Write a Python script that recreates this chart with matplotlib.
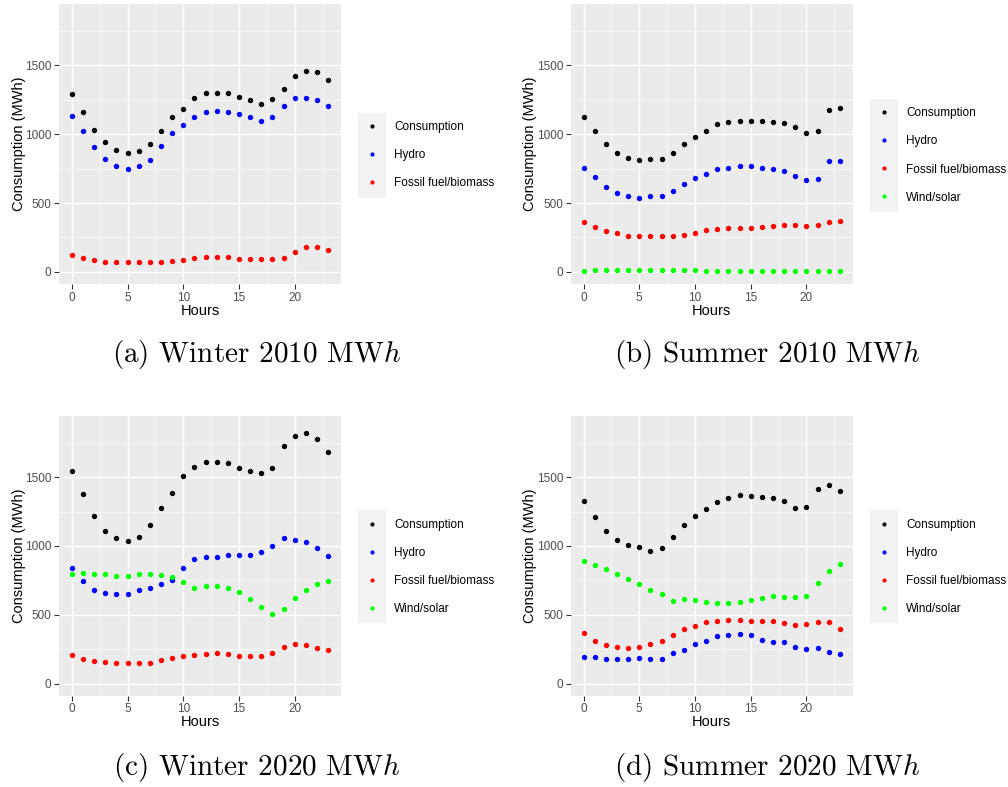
import matplotlib
matplotlib.use("Agg")
import matplotlib.pyplot as plt
from matplotlib.lines import Line2D
from matplotlib.patches import Rectangle
from matplotlib.ticker import MultipleLocator

plt.rcParams['font.family'] = ['Liberation Sans', 'DejaVu Sans']
plt.rcParams['mathtext.fontset'] = 'cm'

#--------------------------------------
# data (MWh per hour of day)
hours = list(range(24))

w10_consumption = [1289, 1161, 1030, 940, 882, 865, 880, 928, 1023, 1122, 1185, 1265,
                   1299, 1301, 1301, 1270, 1246, 1221, 1253, 1326, 1420, 1461, 1454, 1393]
w10_hydro = [1134, 1025, 904, 821, 771, 751, 766, 814, 911, 1006, 1066, 1127,
             1161, 1166, 1161, 1144, 1122, 1098, 1127, 1204, 1260, 1265, 1250, 1204]
w10_fossil = [121, 99, 85, 75, 75, 75, 75, 75, 75, 78, 85, 102,
              111, 111, 107, 95, 92, 92, 97, 99, 141, 179, 179, 162]

s10_consumption = [1127, 1027, 931, 865, 824, 812, 821, 821, 863, 928, 981, 1025,
                   1071, 1088, 1098, 1098, 1093, 1090, 1081, 1049, 1008, 1025, 1175, 1187]
s10_hydro = [754, 688, 618, 574, 548, 538, 548, 548, 584, 642, 683, 712,
             746, 756, 766, 768, 758, 749, 732, 698, 664, 676, 802, 805]
s10_fossil = [363, 327, 298, 279, 264, 259, 262, 262, 264, 271, 286, 305,
              313, 322, 322, 320, 325, 334, 337, 339, 334, 337, 361, 373]
s10_wind = [10, 12, 12, 12, 12, 15, 15, 15, 15, 12, 12, 10,
            10, 7, 7, 7, 7, 7, 7, 10, 10, 7, 10, 10]

w20_consumption = [1546, 1374, 1214, 1109, 1056, 1039, 1066, 1155, 1274, 1388, 1507, 1573,
                   1607, 1607, 1602, 1568, 1541, 1531, 1568, 1726, 1801, 1818, 1774, 1680]
w20_hydro = [840, 748, 677, 660, 648, 653, 677, 692, 726, 755, 840, 903,
             920, 920, 932, 932, 932, 954, 998, 1061, 1044, 1027, 983, 930]
w20_fossil = [211, 180, 163, 160, 153, 150, 150, 153, 172, 189, 204, 211,
              218, 221, 214, 204, 201, 201, 221, 265, 284, 277, 262, 243]
w20_wind = [796, 801, 798, 794, 781, 781, 794, 798, 789, 777, 738, 697,
            709, 709, 692, 665, 617, 558, 505, 541, 621, 682, 723, 748]

s20_consumption = [1323, 1209, 1112, 1044, 1005, 993, 964, 988, 1063, 1150, 1214, 1267,
                   1318, 1349, 1371, 1366, 1359, 1349, 1325, 1272, 1286, 1417, 1439, 1400]
s20_hydro = [194, 192, 182, 177, 182, 189, 180, 182, 221, 245, 284, 311,
             347, 354, 357, 352, 320, 303, 303, 267, 248, 262, 233, 218]
s20_fossil = [369, 311, 277, 265, 257, 267, 286, 308, 354, 396, 420, 444,
              454, 461, 461, 454, 454, 454, 442, 425, 434, 451, 444, 398]
s20_wind = [888, 864, 832, 794, 760, 723, 680, 650, 599, 614, 604, 592,
            587, 587, 595, 604, 621, 638, 629, 626, 638, 730, 818, 869]

labels = ["Consumption", "Hydro", "Fossil fuel/biomass", "Wind/solar"]
colors = ["#000000", "#0000FF", "#FF0000", "#00FF00"]

panels = [
    ("(a) Winter 2010 MW$h$", [w10_consumption, w10_hydro, w10_fossil]),
    ("(b) Summer 2010 MW$h$", [s10_consumption, s10_hydro, s10_fossil, s10_wind]),
    ("(c) Winter 2020 MW$h$", [w20_consumption, w20_hydro, w20_fossil, w20_wind]),
    ("(d) Summer 2020 MW$h$", [s20_consumption, s20_hydro, s20_fossil, s20_wind]),
]

#--------------------------------------
W, H = 1008, 787
fig = plt.figure(figsize=(W / 100, H / 100), dpi=100)

# pixel layout of each panel: left, top of plot area
ax_left = [59, 570.7, 59, 570.7]
ax_top = [4, 4, 415.7, 415.7]
ax_w, ax_h = 282, 280
key_x = [371.7, 883.7, 371.7, 883.7]     # centre of legend key column
leg_cy = [155.3, 155.5, 566.8, 566.8]   # vertical centre of legend
cap_x = [256.5, 767, 256.5, 767]
cap_y = [355, 355, 767, 767]

fs_leg = 8.5
px = fs_leg * 100 / 72.0
row = 28.3

for i, (cap, series) in enumerate(panels):
    ax = fig.add_axes([ax_left[i] / W, 1 - (ax_top[i] + ax_h) / H, ax_w / W, ax_h / H])
    ax.set_facecolor("#EBEBEB")
    for k, vals in enumerate(series):
        ax.scatter(hours, vals, s=15, color=colors[k], zorder=3, linewidths=0)
    ax.set_xlim(-1.15, 24.15)
    ax.set_ylim(-88, 1946)
    ax.xaxis.set_major_locator(MultipleLocator(5))
    ax.xaxis.set_minor_locator(MultipleLocator(2.5))
    ax.yaxis.set_major_locator(MultipleLocator(500))
    ax.yaxis.set_minor_locator(MultipleLocator(250))
    ax.grid(which="major", color="white", linewidth=1.0)
    ax.grid(which="minor", color="white", linewidth=0.5)
    ax.set_axisbelow(True)
    for sp in ax.spines.values():
        sp.set_visible(False)
    ax.tick_params(which="major", length=3.5, width=0.8, color="#333333",
                   labelcolor="#4D4D4D", labelsize=8.5, pad=2)
    ax.tick_params(which="minor", length=0)
    ax.set_xlabel("Hours", fontsize=10.5, labelpad=0)
    ax.set_ylabel("Consumption (MWh)", fontsize=10.5, labelpad=-0.5)

    # legend, ggplot-like: grey key column, no title
    n = len(series)
    handles = [Line2D([], [], linestyle="none", marker="o", markersize=3.0,
                      markerfacecolor=colors[k], markeredgewidth=0) for k in range(n)]
    leg = fig.legend(handles, labels[:n], loc="center left",
                     bbox_to_anchor=((key_x[i] - px / 2) / W, 1 - leg_cy[i] / H),
                     frameon=False, fontsize=fs_leg, handlelength=1.0,
                     handletextpad=1.39, labelspacing=1.36, borderpad=0, borderaxespad=0)
    fig.patches.append(Rectangle(((key_x[i] - 14) / W, 1 - (leg_cy[i] + n * row / 2) / H),
                                 28 / W, n * row / H, transform=fig.transFigure,
                                 facecolor="#F2F2F2", edgecolor="none", zorder=0))

    fig.text(cap_x[i] / W, 1 - cap_y[i] / H, cap, family="cmr10",
             ha="center", va="center", fontsize=21)

fig.savefig("out.png", dpi=100)
